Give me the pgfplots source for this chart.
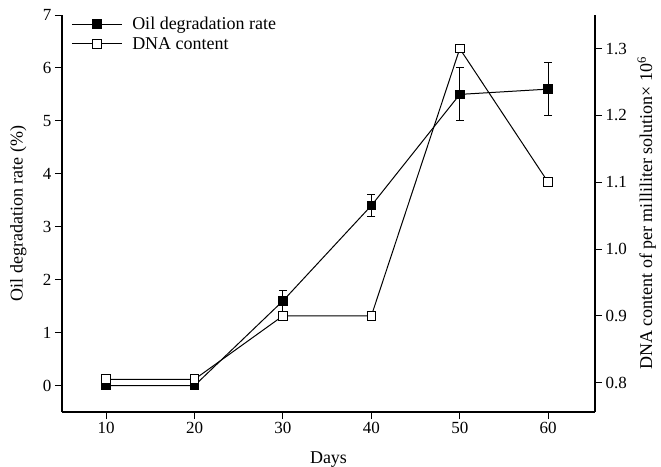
\documentclass[border=0pt]{standalone}
\usepackage{pgfplots}
\pgfplotsset{compat=1.18}
\usepackage{fontspec}
\setmainfont{Liberation Serif}
\begin{document}
\begin{tikzpicture}
\pgfplotsset{
  common/.style={
    width=533bp, height=397bp, scale only axis,
    xmin=5, xmax=65.3,
    tick align=outside, major tick length=7bp,
    axis line style={line width=1.2bp},
    tick style={line width=1bp, black},
    /pgf/number format/assume math mode=true,
    tick label style={font=\fontsize{17bp}{20bp}\selectfont},
    label style={font=\fontsize{18bp}{21bp}\selectfont},
  },
}
\begin{axis}[common,
  axis y line*=left, axis x line*=bottom,
  ymin=-0.5, ymax=7, ytick={0,1,...,7},
  xtick={10,20,...,60},
  xlabel={Days},
  xlabel style={at={(axis description cs:0.5,-0.121)}, anchor=center},
  ylabel={Oil degradation rate (\%)},
  ylabel style={at={(axis description cs:-0.082,0.5)}, anchor=center},
]
\addplot[black, line width=1bp, mark=square*, mark size=4.3bp, mark options={solid, fill=black},
  error bars/.cd, y dir=both, y explicit,
  error bar style={line width=1bp},
  error mark options={line width=1bp, mark size=4bp, rotate=90}]
  table[x=x, y=y, y error=e] {
x y e
10 0 0
20 0 0
30 1.6 0.2
40 3.4 0.2
50 5.5 0.5
60 5.6 0.5
};
\end{axis}
\begin{axis}[common,
  axis y line*=right, axis x line=none,
  ymin=0.756, ymax=1.3504,
  ytick={0.8,0.9,...,1.3},
  yticklabel style={/pgf/number format/.cd, fixed, fixed zerofill, precision=1},
  ylabel={DNA content of per milliliter solution× 10\textsuperscript{6}},
  ylabel style={at={(axis description cs:1.097,0.5)}, anchor=center},
  legend style={at={(axis description cs:0.017,1.0)}, anchor=north west, draw=none, fill=none,
    font=\fontsize{18bp}{20bp}\selectfont, inner sep=0pt, row sep=2bp,
    /tikz/every odd column/.append style={column sep=8bp}},
  legend cell align=left,
  legend image code/.code={\draw[#1, mark repeat=2, mark phase=2] plot coordinates {(0bp,0bp) (25bp,0bp) (50bp,0bp)};},
]
\addlegendimage{black, line width=1bp, mark=square*, mark size=4.3bp, mark options={solid, fill=black}}
\addlegendentry{Oil degradation rate}
\addplot[black, line width=1bp, mark=square*, mark size=4.3bp, mark options={solid, fill=white, draw=black}]
  table[x=x, y=y] {
x y
10 0.805
20 0.805
30 0.9
40 0.9
50 1.3
60 1.1
};
\addlegendentry{DNA content}
\end{axis}
\pgfresetboundingbox
\path[use as bounding box] (-62bp,-55bp) rectangle (599bp,412bp);
\end{tikzpicture}
\end{document}
